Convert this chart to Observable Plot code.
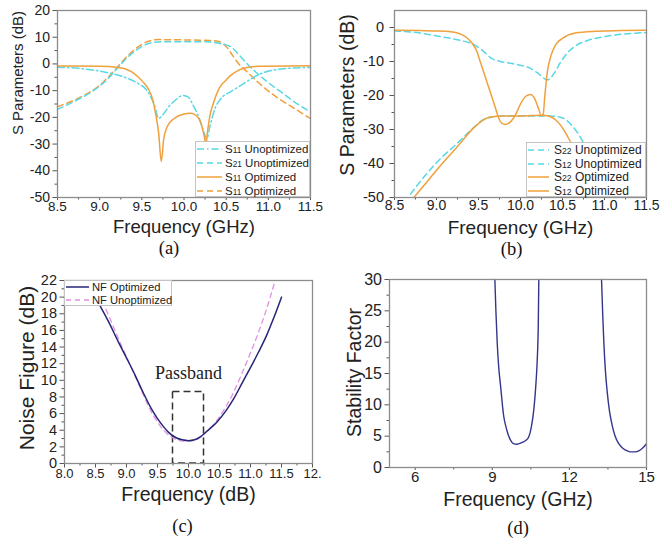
<!DOCTYPE html>
<html><head><meta charset="utf-8">
<script src="https://cdn.jsdelivr.net/npm/d3@7"></script>
<script src="https://cdn.jsdelivr.net/npm/@observablehq/plot@0.6"></script>
<style>
body{margin:0;background:#fff;}
#wrap{position:relative;width:662px;height:540px;overflow:hidden;background:#fff;font-family:Arial,"Liberation Sans",sans-serif;}
.panel{position:absolute;top:0;left:0;}
.legend{position:absolute;background:#fff;border:1px solid #c4c4c4;color:#222;box-sizing:border-box;}
.legend .row{display:flex;align-items:center;white-space:nowrap;}
.legend svg{flex:none;}
.legend .s{font-size:0.72em;}
</style></head>
<body><div id="wrap"></div>
<script>
// ---------- data: panel (a) ----------
const aXTicks = [8.5, 9.0, 9.5, 10.0, 10.5, 11.0, 11.5];
const aYTicks = [-50, -40, -30, -20, -10, 0, 10, 20];
const a_S11_unopt = [[8.5,-1.2],[8.8,-1.8],[9.07,-3.1],[9.25,-4.5],[9.46,-7.4],[9.54,-9.2],[9.6,-12],[9.65,-15.5],[9.70,-20.4],[9.75,-19],[9.82,-16],[9.9,-13.5],[9.99,-11.8],[10.05,-12.4],[10.11,-15.6],[10.17,-19.5],[10.23,-25],[10.27,-28],[10.31,-23],[10.37,-16.5],[10.45,-12.5],[10.55,-10.5],[10.65,-8.5],[10.75,-6.5],[10.9,-3.8],[11.15,-1.9],[11.5,-1.3]];
const a_S21_unopt = [[8.5,-17],[8.7,-14],[8.9,-10.5],[9.1,-5.5],[9.2,-2],[9.3,1.5],[9.4,4.3],[9.5,6.5],[9.6,7.8],[9.75,8.3],[10.0,8.3],[10.25,8.3],[10.4,7.8],[10.55,6.5],[10.65,3.5],[10.75,0],[10.85,-3],[11.0,-7],[11.15,-10.5],[11.3,-14],[11.5,-18]];
const a_S11_opt = [[8.5,-0.8],[9.0,-0.9],[9.2,-1.2],[9.3,-1.8],[9.38,-3],[9.46,-5],[9.52,-7],[9.58,-9.5],[9.63,-13.5],[9.66,-18],[9.70,-26],[9.73,-36.5],[9.76,-28],[9.80,-23.5],[9.88,-20.5],[9.99,-18.8],[10.08,-18.5],[10.15,-19.5],[10.2,-22],[10.24,-27],[10.26,-30],[10.28,-25],[10.31,-19],[10.35,-14.5],[10.42,-9],[10.5,-6],[10.55,-4.4],[10.65,-2.3],[10.75,-1.3],[10.9,-0.9],[11.5,-0.7]];
const a_S21_opt = [[8.5,-16],[8.8,-12],[9.0,-8],[9.1,-5],[9.21,-1.2],[9.3,2],[9.4,5],[9.5,7.3],[9.6,8.7],[9.7,9.1],[10.0,9.0],[10.3,8.8],[10.43,8.2],[10.5,6.5],[10.58,3],[10.65,0],[10.75,-3],[10.9,-7.5],[11.1,-12.5],[11.3,-16.5],[11.5,-20.5]];
const aLegend = [["S","11"," Unoptimized"],["S","21"," Unoptimized"],["S","11"," Optimized"],["S","11"," Optimized"]];

// ---------- data: panel (b) ----------
const bXTicks = [8.5, 9.0, 9.5, 10.0, 10.5, 11.0, 11.5];
const bYTicks = [-50, -40, -30, -20, -10, 0];
const b_S22_unopt = [[8.5,-1.0],[8.8,-1.6],[9.05,-2.7],[9.25,-3.6],[9.44,-5],[9.55,-6.8],[9.65,-9],[9.76,-10],[9.9,-10.6],[9.98,-11],[10.1,-11.8],[10.2,-13.3],[10.32,-15.4],[10.4,-13.5],[10.47,-10.5],[10.54,-8],[10.65,-5.5],[10.8,-3.8],[10.93,-3.0],[11.2,-2.0],[11.5,-1.5]];
const b_S12_unopt = [[8.69,-49],[8.85,-44],[9.05,-38.5],[9.25,-34],[9.44,-29.5],[9.55,-27.2],[9.65,-26.4],[9.8,-26],[10.0,-26],[10.2,-26],[10.35,-26],[10.5,-26.6],[10.6,-28.5],[10.68,-31],[10.8,-36],[10.9,-40]];
const b_S22_opt = [[8.5,-0.8],[8.8,-0.9],[9.0,-1.0],[9.15,-1.2],[9.25,-1.6],[9.35,-2.8],[9.42,-4.5],[9.48,-7],[9.52,-10],[9.58,-14.5],[9.64,-19],[9.70,-23.5],[9.74,-26.6],[9.78,-28.2],[9.82,-28.5],[9.87,-28],[9.94,-25.7],[10.0,-22.5],[10.06,-20.3],[10.12,-19.7],[10.17,-21],[10.21,-23.5],[10.25,-26],[10.27,-25.5],[10.29,-20],[10.32,-13],[10.36,-8.5],[10.42,-5],[10.5,-3.2],[10.65,-1.6],[10.9,-1.1],[11.2,-0.9],[11.5,-0.8]];
const b_S12_opt = [[8.73,-50],[8.85,-46.5],[9.05,-40.5],[9.25,-35],[9.44,-29.6],[9.55,-27.3],[9.64,-26.3],[9.8,-26],[10.0,-26],[10.26,-25.8],[10.35,-26.2],[10.42,-27.2],[10.5,-29.5],[10.57,-32.5],[10.65,-36],[10.8,-42]];
const bLegend = [["S","22"," Unoptimized"],["S","12"," Unoptimized"],["S","22"," Optimized"],["S","12"," Optimized"]];

// ---------- data: panel (c) ----------
const cXTicks = [8.0, 8.5, 9.0, 9.5, 10.0, 10.5, 11.0, 11.5, 12.0];
const cXLabels = ["8.0","8.5","9.0","9.5","10.0","10.5","11.0","11.5","12."];
const cYTicks = [0, 2, 4, 6, 8, 10, 12, 14, 16, 18, 20, 22];
const c_NF_opt = [[8.5,20.0],[8.6,18.6],[8.7,17.2],[8.87,14.6],[9.0,12.7],[9.14,10.6],[9.27,8.5],[9.40,6.6],[9.5,5.4],[9.6,4.4],[9.67,3.8],[9.8,3.1],[9.9,2.85],[10.0,2.75],[10.1,2.85],[10.19,3.2],[10.3,3.9],[10.46,5.0],[10.6,6.3],[10.73,7.8],[10.86,9.6],[10.99,11.4],[11.13,13.4],[11.26,15.4],[11.38,17.6],[11.5,20.0]];
const c_NF_unopt = [[8.55,20.5],[8.7,18.0],[8.87,15.0],[9.0,12.8],[9.14,10.5],[9.27,8.3],[9.4,6.2],[9.5,5.0],[9.6,4.0],[9.7,3.3],[9.8,2.9],[9.9,2.7],[10.0,2.7],[10.1,2.8],[10.2,3.2],[10.3,3.9],[10.46,5.2],[10.6,6.8],[10.73,8.6],[10.86,10.8],[11.0,13.3],[11.13,15.8],[11.26,18.6],[11.39,21.8]];
const cPassband = [{x1: 9.75, x2: 10.25, y1: 0, y2: 8.6}];
const cPassLabel = [{x: 10.0, y: 10.9, text: "Passband"}];
const cLegend = ["NF Optimized", "NF Unoptimized"];

// ---------- data: panel (d) ----------
const dXTicks = [6, 9, 12, 15];
const dYTicks = [0, 5, 10, 15, 20, 25, 30];
const d_K_band1 = [[9.10,30],[9.14,25],[9.19,20],[9.25,16],[9.32,13.1],[9.44,8.3],[9.55,6.2],[9.63,5.1],[9.72,4.3],[9.82,3.8],[9.95,3.7],[10.16,4.0],[10.3,4.3],[10.42,4.9],[10.52,6.5],[10.62,9.4],[10.70,13.5],[10.75,17.3],[10.79,23],[10.81,30]];
const d_K_band2 = [[13.25,30],[13.30,24],[13.34,20],[13.40,15.5],[13.47,12.1],[13.56,9],[13.66,6.8],[13.78,5],[13.92,3.8],[14.1,3.0],[14.25,2.65],[14.38,2.5],[14.55,2.5],[14.7,2.65],[14.85,3.1],[15.0,3.8]];

// ---------- styles ----------
const CYAN = "#58d8e4", ORANGE = "#f0a03c", NAVY = "#262678", PINK = "#e290e0", FRAME = "#8c8c8c";
const DASHDOT = "7,3,1.5,3", DASH = "6,4";
const fmtNum = d => String(d).replace("\u2212", "-");
const fmt1 = d => d.toFixed(1);

const wrap = document.getElementById("wrap");

function line(data, stroke, dash, w = 1.5) {
  return Plot.line(data, {x: d => d[0], y: d => d[1], stroke, strokeWidth: w, strokeDasharray: dash, curve: "monotone-x"});
}

function panel(o) {
  const marks = [
    Plot.axisX({ticks: o.xMinor, tickSize: 2.5, tickFormat: () => "", stroke: "#555", label: null}),
    Plot.axisX({ticks: o.xTicks, tickSize: o.xTick ?? 4.5, tickPadding: o.xPad, tickFormat: o.xFmt, fontSize: o.xFont, stroke: "#555", fill: "#222", label: null}),
    Plot.axisY({ticks: o.yMinor, tickSize: 2.5, tickFormat: () => "", stroke: "#555", label: null}),
    Plot.axisY({ticks: o.yTicks, tickSize: 4.5, tickPadding: o.yPad, tickFormat: o.yFmt, fontSize: o.yFont, stroke: "#555", fill: "#222", label: null}),
    ...o.marks,
    Plot.frame({stroke: FRAME, strokeWidth: 1.3}),
    Plot.text([o.xTitle], {text: d => d, frameAnchor: "bottom", dy: o.xTitleDy, fontSize: o.xTitleFont ?? 19.5, lineAnchor: "middle", fill: "#222"}),
    Plot.text([o.yTitle], {text: d => d, frameAnchor: "left", dx: o.yTitleDx, dy: o.yTitleDy, rotate: -90, fontSize: o.yTitleFont, lineAnchor: "middle", textAnchor: "middle", fill: "#222"}),
    Plot.text([o.caption], {text: d => d, frameAnchor: "bottom", dx: o.capDx, dy: o.capDy, fontSize: 18.5, lineAnchor: "middle", fontFamily: "'Times New Roman','Liberation Serif',serif", fill: "#111"})
  ];
  const svg = Plot.plot({
    width: 331, height: 270,
    marginLeft: o.ml, marginRight: o.mr, marginTop: o.mt, marginBottom: o.mb,
    x: {domain: o.xDomain}, y: {domain: o.yDomain},
    style: {fontFamily: "Arial, 'Liberation Sans', sans-serif", background: "transparent", overflow: "visible", color: "#222"},
    marks
  });
  svg.classList.add("panel");
  svg.style.left = o.left + "px";
  svg.style.top = o.top + "px";
  svg.style.position = "absolute";
  wrap.appendChild(svg);
}

function legend(box, items, fontSize) {
  const div = document.createElement("div");
  div.className = "legend";
  Object.assign(div.style, {left: box.left + "px", top: box.top + "px", width: box.width + "px", height: box.height + "px", fontSize: fontSize + "px", paddingTop: box.pad + "px"});
  for (const it of items) {
    const row = document.createElement("div");
    row.className = "row";
    row.style.height = box.rowH + "px";
    row.innerHTML = `<svg width="${box.sw}" height="10" style="margin:0 ${box.gap}px 0 1px"><line x1="0" y1="5" x2="${box.sw}" y2="5" stroke="${it.stroke}" stroke-width="1.5" ${it.dash ? `stroke-dasharray="${it.dash}"` : ""}/></svg>`;
    const span = document.createElement("span");
    if (Array.isArray(it.label)) span.innerHTML = `${it.label[0]}<span class="s">${it.label[1]}</span>${it.label[2]}`;
    else span.textContent = it.label;
    row.appendChild(span);
    div.appendChild(row);
  }
  wrap.appendChild(div);
}

// ---------- panel (a) ----------
panel({
  left: 0, top: 0, ml: 57, mr: 21, mt: 10, mb: 73,
  xDomain: [8.5, 11.5], yDomain: [-50, 20],
  xTicks: aXTicks, xMinor: d3.range(8.75, 11.5, 0.5), xFmt: fmt1, xTick: 3, xPad: 1, xFont: 13.5,
  yTicks: aYTicks, yMinor: d3.range(-45, 20, 10), yFmt: fmtNum, yPad: 3, yFont: 14,
  xTitle: "Frequency (GHz)", xTitleDy: 30, xTitleFont: 18.5,
  yTitle: "S Parameters (dB)", yTitleDx: -39, yTitleDy: -31, yTitleFont: 15,
  caption: "(a)", capDx: -15, capDy: 51,
  marks: [
    line(a_S21_opt, ORANGE, DASH),
    line(a_S21_unopt, CYAN, DASH),
    line(a_S11_unopt, CYAN, DASHDOT),
    line(a_S11_opt, ORANGE, null)
  ]
});
legend({left: 195, top: 141, width: 115, height: 56, pad: 0, rowH: 14, sw: 25, gap: 3}, [
  {label: aLegend[0], stroke: CYAN, dash: DASHDOT},
  {label: aLegend[1], stroke: CYAN, dash: DASH},
  {label: aLegend[2], stroke: ORANGE, dash: null},
  {label: aLegend[3], stroke: ORANGE, dash: DASH}
], 11.5);

// ---------- panel (b) ----------
panel({
  left: 331, top: 0, ml: 63, mr: 16, mt: 10, mb: 73,
  xDomain: [8.5, 11.5], yDomain: [-50, 5],
  xTicks: bXTicks, xMinor: d3.range(8.75, 11.5, 0.5), xFmt: fmt1, xTick: 3, xPad: 0, xFont: 14,
  yTicks: bYTicks, yMinor: d3.range(-45, 0, 10), yFmt: fmtNum, yPad: 6, yFont: 14.5,
  xTitle: "Frequency (GHz)", xTitleDy: 30, xTitleFont: 19,
  yTitle: "S Parameters (dB)", yTitleDx: -47, yTitleDy: -9, yTitleFont: 19.5,
  caption: "(b)", capDx: -9, capDy: 52,
  marks: [
    line(b_S12_unopt, CYAN, DASH),
    line(b_S22_unopt, CYAN, DASH),
    line(b_S12_opt, ORANGE, null),
    line(b_S22_opt, ORANGE, null)
  ]
});
legend({left: 526, top: 142, width: 120, height: 55, pad: 0, rowH: 13.7, sw: 21, gap: 5}, [
  {label: bLegend[0], stroke: CYAN, dash: DASH},
  {label: bLegend[1], stroke: CYAN, dash: DASH},
  {label: bLegend[2], stroke: ORANGE, dash: null},
  {label: bLegend[3], stroke: ORANGE, dash: null}
], 12);

// ---------- panel (c) ----------
panel({
  left: 0, top: 270, ml: 64, mr: 19, mt: 10, mb: 77,
  xDomain: [8, 12], yDomain: [0, 22],
  xTicks: cXTicks, xMinor: d3.range(8.25, 12, 0.5), xFmt: d => cXLabels[cXTicks.indexOf(d)], xPad: 1, xFont: 13,
  yTicks: cYTicks, yMinor: d3.range(1, 22, 2), yFmt: fmtNum, yPad: 3, yFont: 14.5,
  xTitle: "Frequency (dB)", xTitleDy: 31,
  yTitle: "Noise Figure (dB)", yTitleDx: -37, yTitleDy: -4, yTitleFont: 21,
  caption: "(c)", capDx: -6, capDy: 63,
  marks: [
    Plot.rect(cPassband, {x1: "x1", x2: "x2", y1: "y1", y2: "y2", fill: "none", stroke: "#333", strokeWidth: 1.5, strokeDasharray: "7,4"}),
    Plot.text(cPassLabel, {x: "x", y: "y", text: "text", fontSize: 18, fontFamily: "'Times New Roman','Liberation Serif',serif", fill: "#222"}),
    line(c_NF_unopt, PINK, "5,4", 1.3),
    line(c_NF_opt, NAVY, null, 1.5)
  ]
});
legend({left: 64, top: 280, width: 108, height: 26, pad: 0, rowH: 12.5, sw: 23, gap: 3}, [
  {label: cLegend[0], stroke: NAVY, dash: null},
  {label: cLegend[1], stroke: PINK, dash: "5,4"}
], 11.2);

// ---------- panel (d) ----------
panel({
  left: 331, top: 270, ml: 58, mr: 16, mt: 9, mb: 73,
  xDomain: [5, 15], yDomain: [0, 30],
  xTicks: dXTicks, xMinor: [7.5, 10.5, 13.5], xFmt: fmtNum, xTick: 3, xPad: 1, xFont: 15,
  yTicks: dYTicks, yMinor: d3.range(2.5, 30, 5), yFmt: fmtNum, yPad: 3, yFont: 16,
  xTitle: "Frequency (GHz)", xTitleDy: 32,
  yTitle: "Stability Factor", yTitleDx: -35, yTitleDy: -1, yTitleFont: 19.5,
  caption: "(d)", capDx: 0, capDy: 61,
  marks: [
    line(d_K_band1, "#35358c", null, 1.4),
    line(d_K_band2, "#35358c", null, 1.4)
  ]
});
</script>
</body></html>
